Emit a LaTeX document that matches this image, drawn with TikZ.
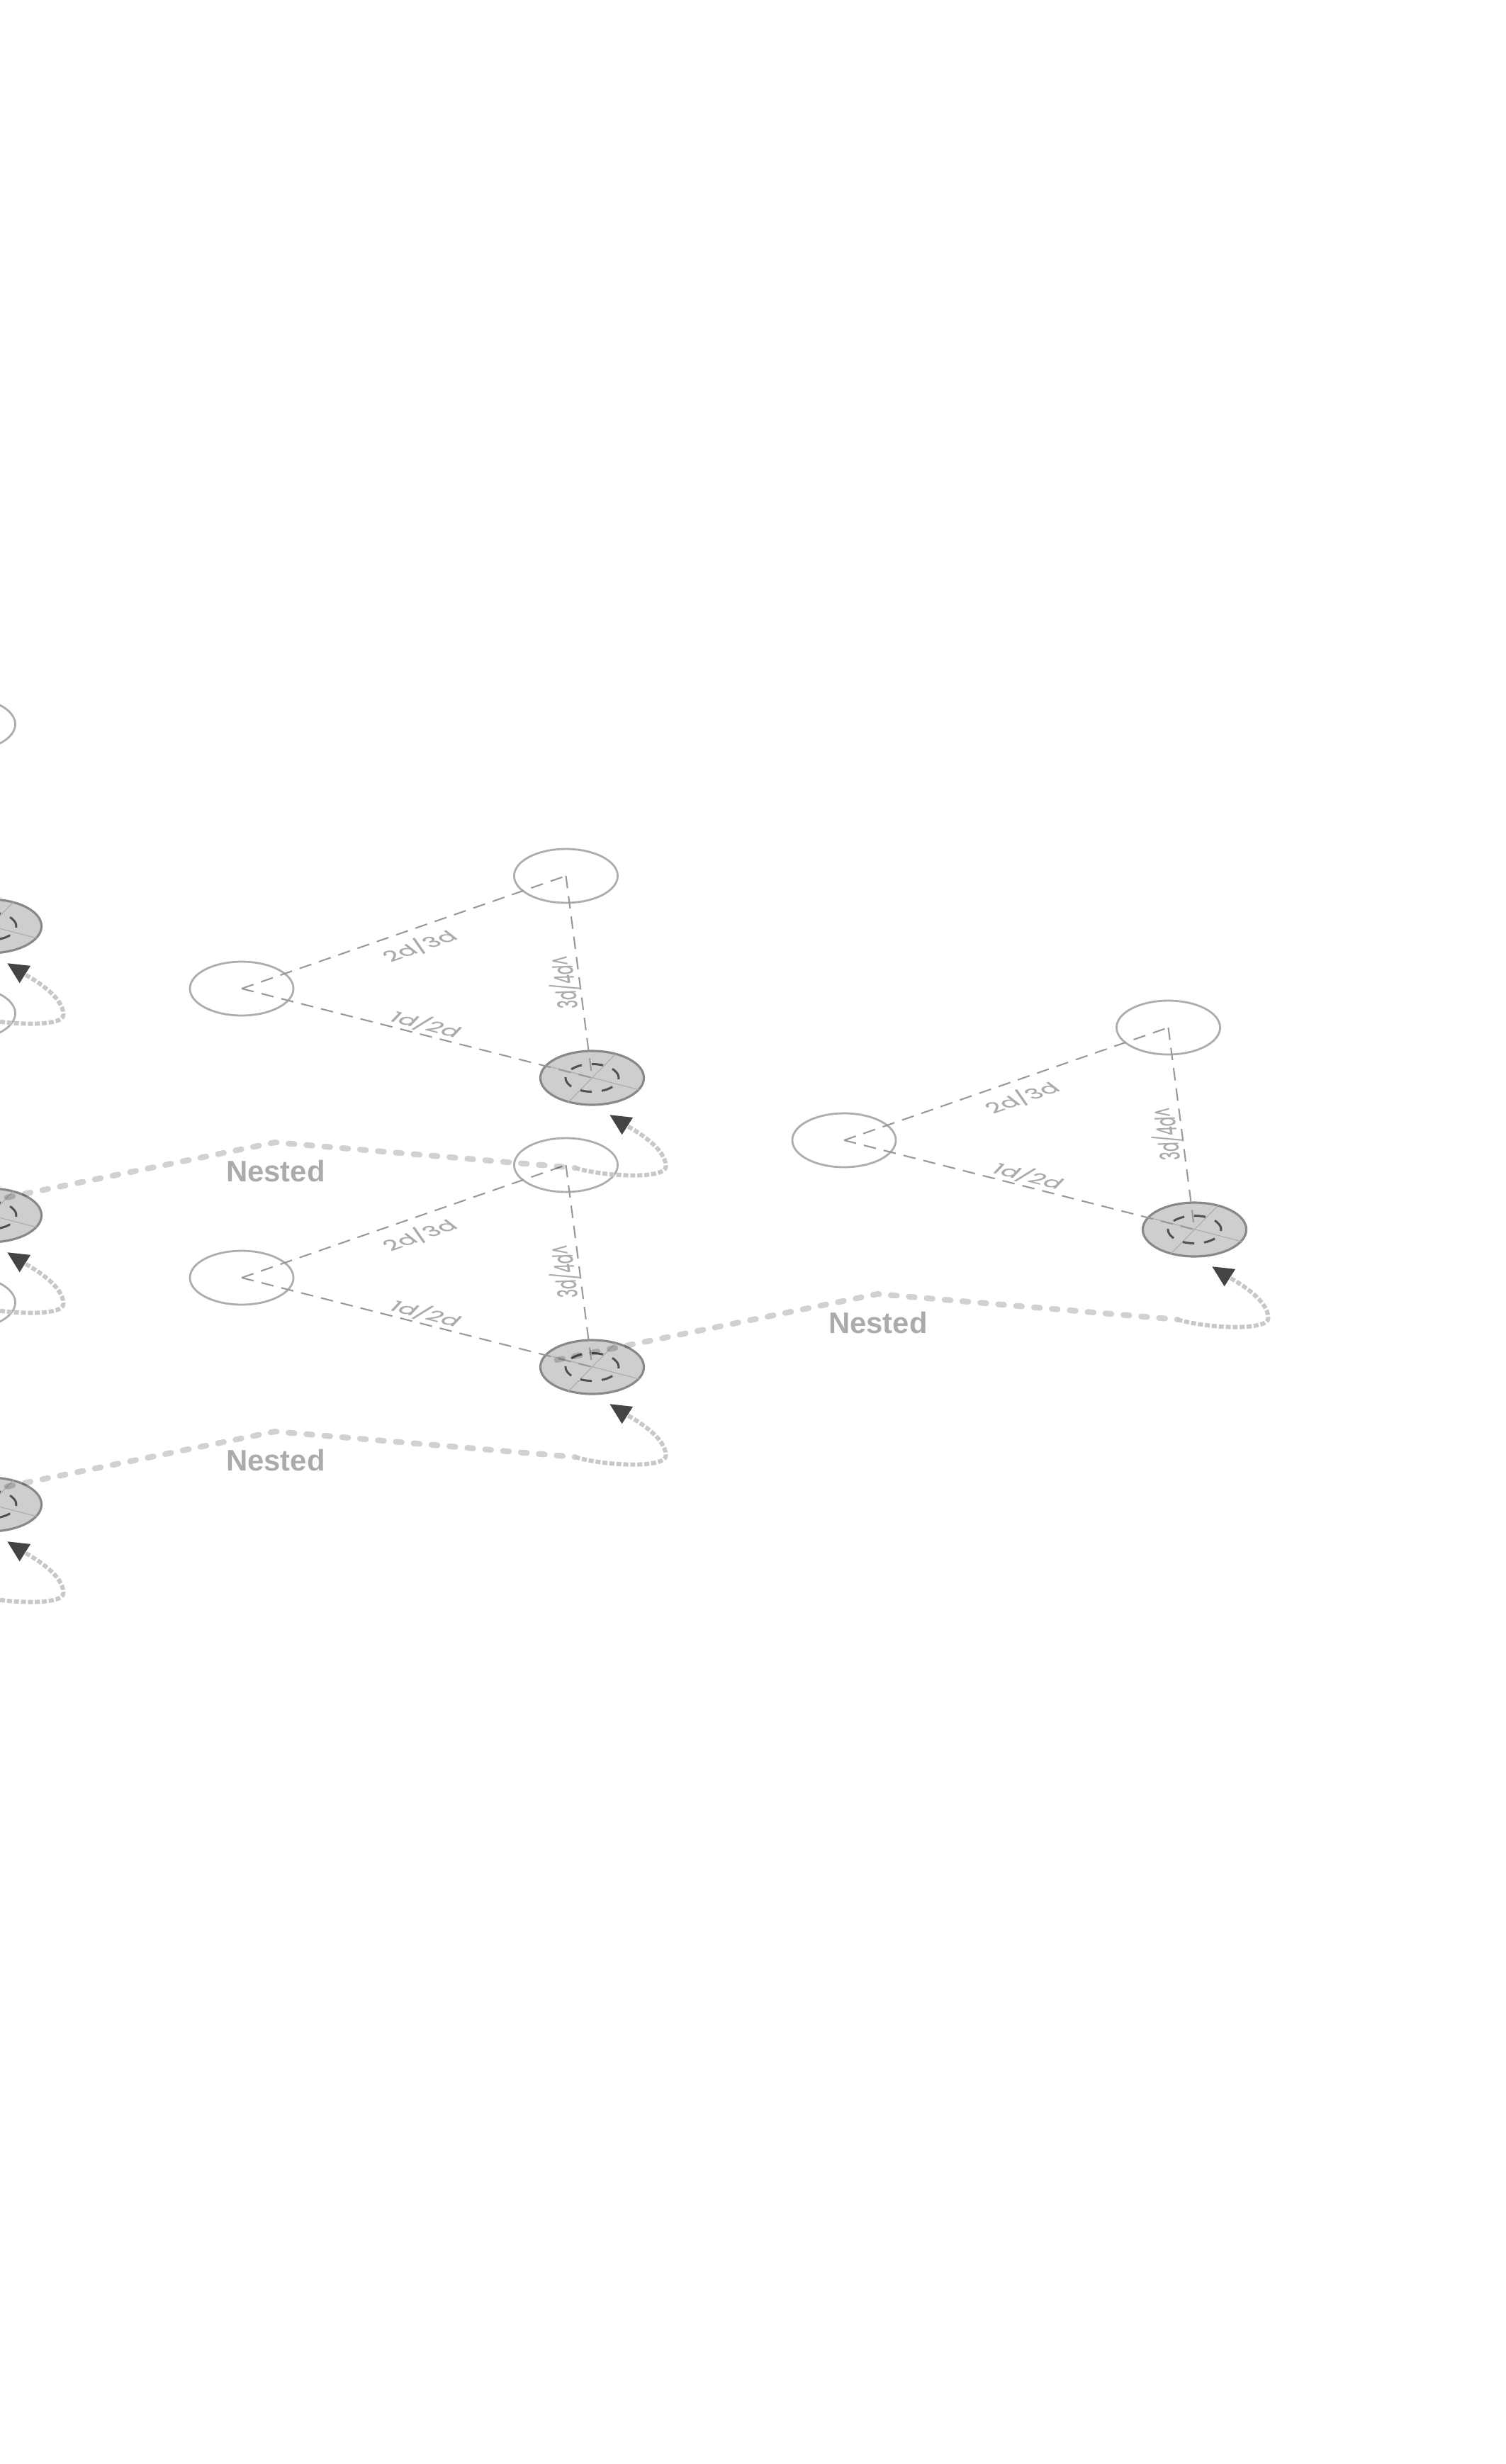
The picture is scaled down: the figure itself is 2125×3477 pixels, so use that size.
\documentclass[tikz,border=0pt]{standalone}
\usepackage{fontspec}
\setmainfont{Liberation Sans}
\newfontfamily\lblfont[FakeBold=0.5, Kerning=Off]{Poppins}
\usepackage{tikz}
\usetikzlibrary{arrows.meta}
\definecolor{pline}{HTML}{ADADAD}
\definecolor{gfill}{HTML}{CECECE}
\definecolor{gline}{HTML}{888888}
\definecolor{edgec}{HTML}{999999}
\definecolor{innerc}{HTML}{505050}
\definecolor{lblc}{HTML}{ABABAB}
\definecolor{curlc}{HTML}{C8C8C8}
\definecolor{tipc}{HTML}{444444}

\begin{document}
\begin{tikzpicture}[
  x=0.01cm, y=0.01cm,
  pnode/.style={circle, draw=pline, line width=0.8pt, minimum size=1.46cm, inner sep=0pt},
  gnode/.style={circle, draw=gline, fill=gfill, line width=0.9pt, minimum size=1.46cm, inner sep=0pt},
  inring/.style={circle, draw=innerc, line width=0.85pt, dash pattern=on 4.6pt off 4pt, minimum size=0.75cm, inner sep=0pt},
  cross/.style={draw=lblc, line width=0.3pt},
  edge/.style={draw=edgec, line width=0.6pt, dash pattern=on 5pt off 3.2pt},
  lbl/.style={text=lblc, font=\lblfont\fontsize{11}{13}\selectfont, inner sep=0pt},
  nestline/.style={draw=black, draw opacity=0.18, line width=2.3pt, line cap=round, dash pattern=on 2.4pt off 4.8pt},
  curl/.style={draw=curlc, line width=1.7pt, dash pattern=on 2pt off 0.8pt, -{Triangle[length=3mm, width=2.7mm, color=tipc]}},
  nestlbl/.style={text=lblc, font=\bfseries\fontsize{11.9}{14}\selectfont}
]
\useasboundingbox (0,0) rectangle (2125,-3477);
\clip (0,0) rectangle (2125,-3477);

% one unit per triangle: l = left, t = top, g = grey
\foreach \n/\x/\y/\lab in {x1/-509/-1181/0, x2/-509/-1589/0, x3/-509/-1997/0,
                           ua/341/-1395/1, ub/341/-1803/1, uc/1191/-1609/1}{
  \begin{scope}[shift={(\x,\y)}]
    \begin{scope}[yscale=0.52, every node/.append style={transform shape}]
      \node[gnode] (\n-g) at (494.5,-242.3) {};
      \draw[cross] (\n-g.153.9) -- (\n-g.-26.1);
      \draw[cross] (\n-g.63.9) -- (\n-g.243.9);
      \node[inring] (\n-i) at (\n-g.center) {};
      \node[pnode] (\n-l) at (0,0) {};
      \node[pnode] (\n-t) at (457.5,305.8) {};
      \draw[edge] (\n-l.center) -- (\n-t.center);
      \draw[edge] (\n-l.center) -- (\n-g.center);
      \draw[edge] (\n-t.center) -- (\n-g.center);
      \ifnum\lab=1
        \node[lbl, rotate=33.8] at (250.5,116.3) {2d/3d};
        \node[lbl, rotate=-26.1] at (260,-96.2) {1d/2d};
        \node[lbl, rotate=93.9] at (454.6,17.3) {3d/4d\textasciicircum};
      \fi
    \end{scope}
    \coordinate (\n-out) at (444.5,-116);
    \coordinate (\n-peak) at (47,-217);
    \coordinate (\n-bend) at (470.5,-253);
    \coordinate (\n-c1) at (514.5,-266);
    \coordinate (\n-c2) at (598.5,-269);
    \coordinate (\n-r) at (598.5,-251);
    \coordinate (\n-c3) at (598.5,-223);
    \coordinate (\n-c4) at (549,-197);
    \coordinate (\n-tip) at (519,-178);
  \end{scope}
}

% sources left of the frame
\coordinate (x1s-out) at (-914.5,-1491);
\coordinate (x2s-out) at (-914.5,-1899);
\coordinate (x3s-out) at (-914.5,-2307);

% nested links
\foreach \s/\t in {x1s/x1, x2s/x2, x3s/x3, x2/ua, x3/ub, ub/uc}{
  \draw[nestline] (\s-out) -- (\t-peak) -- (\t-bend);
  \draw[curl] (\t-bend) .. controls (\t-c1) and (\t-c2) .. (\t-r)
    .. controls (\t-c3) and (\t-c4) .. (\t-tip);
}
\node[nestlbl] at (389,-1653) {Nested};
\node[nestlbl] at (389,-2061) {Nested};
\node[nestlbl] at (1239,-1867) {Nested};
\end{tikzpicture}
\end{document}
